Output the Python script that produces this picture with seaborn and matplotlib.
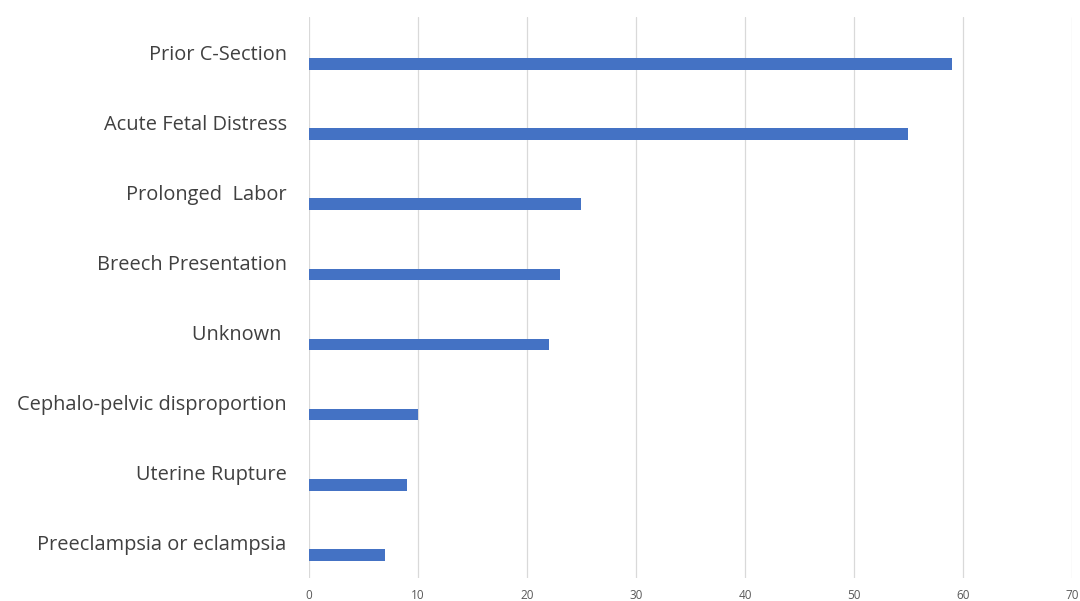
import matplotlib
matplotlib.use("Agg")
import matplotlib.pyplot as plt
import seaborn as sns
import numpy as np
import pandas as pd

# Data
causes = ["Prior C-Section", "Acute Fetal Distress", "Prolonged  Labor", "Breech Presentation",
          "Unknown ", "Cephalo-pelvic disproportion", "Uterine Rupture", "Preeclampsia or eclampsia"]
counts = [59, 55, 25, 23, 22, 10, 9, 7]
x_ticks = [0, 10, 20, 30, 40, 50, 60, 70]

df = pd.DataFrame({"cause": causes, "count": counts})

sns.set_theme(style="white")
plt.rcParams["font.family"] = ["Open Sans", "DejaVu Sans"]

fig = plt.figure(figsize=(10.8, 6.01), dpi=100)
ax = fig.add_axes([0.286, 0.0383, 0.7066, 0.9334])

sns.barplot(data=df, x="count", y="cause", color="#4472C4", width=0.165,
            saturation=1, linewidth=0, ax=ax)

# labels sit in the middle of each band, bars at its lower part
shift = 0.17
ax.set_yticks(np.arange(len(causes)) - shift)
ax.set_yticklabels(causes, fontsize=14.4, color="#404040")
ax.set_ylim(len(causes) - 0.5 - shift, -0.5 - shift)

ax.set_xlim(0, 70)
ax.set_xticks(x_ticks)
ax.set_xticklabels([str(t) for t in x_ticks], fontsize=8.5, color="#595959")
ax.xaxis.grid(True, color="#d9d9d9", linewidth=0.9)
ax.set_axisbelow(True)
ax.tick_params(axis="both", length=0)
ax.tick_params(axis="y", pad=16)
ax.tick_params(axis="x", pad=8)
for s in ax.spines.values():
    s.set_visible(False)
ax.set_xlabel("")
ax.set_ylabel("")

fig.savefig("out.png", dpi=100)
